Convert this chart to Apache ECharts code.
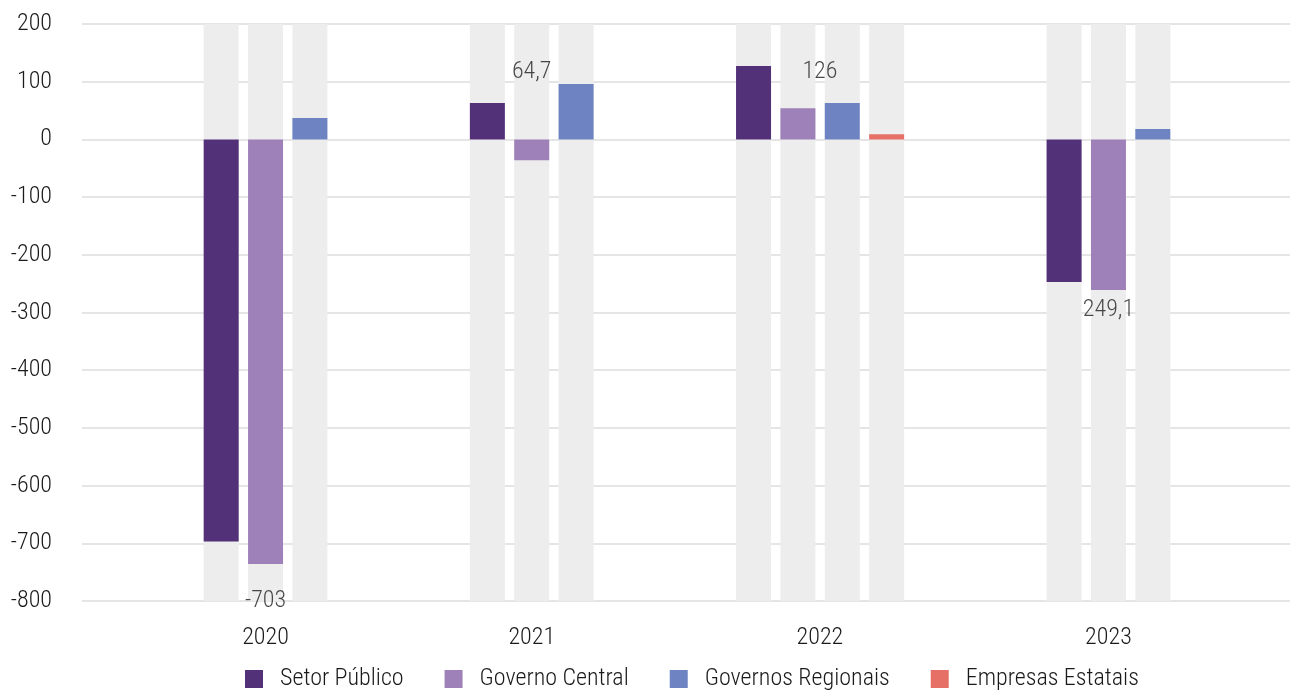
<!DOCTYPE html>
<html>
<head>
<meta charset="utf-8">
<script src="https://cdn.jsdelivr.net/npm/echarts@6/dist/echarts.min.js"></script>
<style>html,body{margin:0;padding:0;background:#fff}#c{width:1290px;height:691px}</style>
</head>
<body>
<div id="c"></div>
<script>
// ---- data ----
const years = ['2020', '2021', '2022', '2023'];
const seriesNames = ['Setor Público', 'Governo Central', 'Governos Regionais', 'Empresas Estatais'];
const setorPublico = [-697, 63, 127, -247];
const governoCentral = [-736, -36, 54, -261];
const governosRegionais = [37, 96, 63, 18];
const empresasEstatais = [null, null, 9, null];
const annotationText = ['-703', '64,7', '126', '249,1'];
const annotationAt = [-800, 117, 117, -296];
const yTicks = { min: -800, max: 200, step: 100 };

// ---- layout of slots (one slot per bar, 3 empty slots between years) ----
const colors = ['#523178', '#9e81b9', '#6e84c2', '#e66f66'];
const values = [setorPublico, governoCentral, governosRegionais, empresasEstatais];
const gapSlots = 3;
const HALF = 22; // half a slot, in px, for groups with an even number of bars
const slots = [];
const slotSeries = values.map(() => []);
const bgPos = [], bgNeg = [];
const labelAtSlot = {};
const annoData = [];
years.forEach((y, yi) => {
  if (yi > 0) {
    for (let g = 0; g < gapSlots; g++) {
      slots.push('gap' + yi + '_' + g);
      slotSeries.forEach(a => a.push(null));
      bgPos.push(null); bgNeg.push(null);
    }
  }
  const start = slots.length;
  let n = 0;
  values.forEach((arr, si) => {
    if (arr[yi] == null) return;
    slots.push(y + '_' + si);
    slotSeries.forEach((a, k) => a.push(k === si ? arr[yi] : null));
    bgPos.push(yTicks.max); bgNeg.push(yTicks.min);
    n++;
  });
  const c = start + (n - 1) / 2;
  const half = c !== Math.floor(c);
  labelAtSlot[Math.floor(c)] = { text: y, half: half };
  annoData.push({
    value: [Math.floor(c), annotationAt[yi]], text: annotationText[yi],
    label: { offset: [half ? HALF : 0, 0] }
  });
});

const FONT = "'Roboto Condensed', Roboto";
const TXT = '#1a1a1a';
const FS = 24;
const FW = 300;
const chart = echarts.init(document.getElementById('c'));
const barCommon = { type: 'bar', xAxisIndex: 1, yAxisIndex: 1, barWidth: 35, barGap: '-100%', animation: false };
const series = [
  Object.assign({}, barCommon, { name: 'bgPos', data: bgPos, itemStyle: { color: '#ededed' }, silent: true, z: 1 }),
  Object.assign({}, barCommon, { name: 'bgNeg', data: bgNeg, itemStyle: { color: '#ededed' }, silent: true, z: 1 })
];
seriesNames.forEach((nm, i) => {
  series.push(Object.assign({}, barCommon, { name: nm, data: slotSeries[i], itemStyle: { color: colors[i] }, z: 3 }));
});
series.push({
  type: 'scatter', xAxisIndex: 1, yAxisIndex: 1, symbolSize: 0, z: 5, animation: false,
  data: annoData,
  label: { show: true, position: 'inside', formatter: p => p.data.text, fontFamily: FONT, fontWeight: FW, fontSize: FS, color: TXT }
});

chart.setOption({
  backgroundColor: '#fff',
  animation: false,
  legend: {
    data: seriesNames, left: 240, top: 662, icon: 'rect', itemWidth: 18, itemHeight: 18, itemGap: 41,
    textStyle: { fontFamily: FONT, fontWeight: FW, fontSize: FS, color: TXT, padding: [0, 0, 0, 12] }
  },
  grid: [
    { left: 82, right: 0, top: 24, bottom: 90 },
    { left: 199, right: 115, top: 24, bottom: 90 }
  ],
  xAxis: [
    { type: 'category', gridIndex: 0, data: [''], show: false },
    {
      type: 'category', gridIndex: 1, data: slots,
      axisLine: { show: false }, axisTick: { show: false },
      axisLabel: {
        interval: 0, margin: 25, fontFamily: FONT, fontWeight: FW, fontSize: FS, color: TXT,
        formatter: (v, i) => {
          const l = labelAtSlot[i];
          if (!l) return '';
          return l.half ? '{h|' + l.text + '}' : l.text;
        },
        rich: { h: { fontFamily: FONT, fontWeight: FW, fontSize: FS, color: TXT, padding: [0, 0, 0, 2 * HALF] } }
      }
    }
  ],
  yAxis: [
    {
      type: 'value', gridIndex: 0, min: yTicks.min, max: yTicks.max, interval: yTicks.step,
      axisLine: { show: false }, axisTick: { show: false },
      splitLine: { lineStyle: { color: '#dcdcdc', width: 1.5 } },
      axisLabel: { margin: 30, fontFamily: FONT, fontWeight: FW, fontSize: FS, color: TXT }
    },
    { type: 'value', gridIndex: 1, min: yTicks.min, max: yTicks.max, interval: yTicks.step, show: false, splitLine: { show: false } }
  ],
  series: series
});
</script>
</body>
</html>
